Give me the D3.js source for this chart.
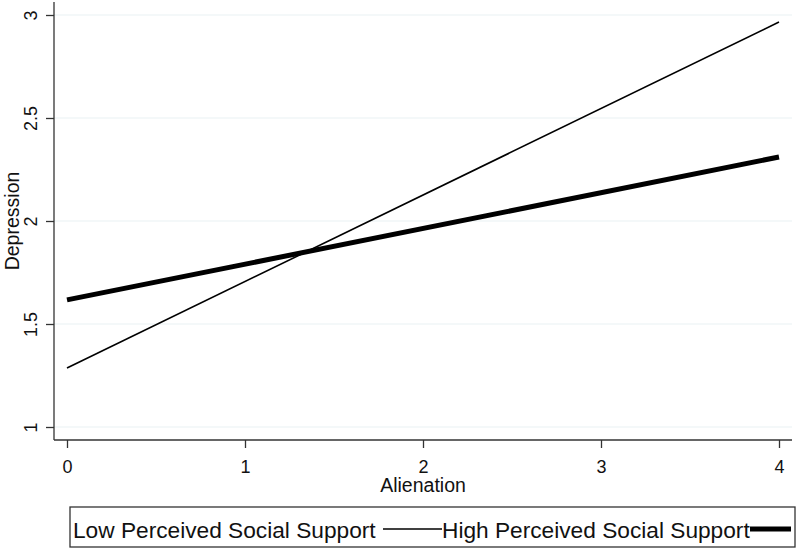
<!DOCTYPE html>
<html>
<head>
<meta charset="utf-8">
<script src="https://cdn.jsdelivr.net/npm/d3@7"></script>
<style>
  html, body { margin: 0; padding: 0; background: #fff; }
  svg { display: block; font-family: "Liberation Sans", Arial, sans-serif; }
</style>
</head>
<body>
<svg id="chart" width="797" height="550"></svg>
<script>
// Data
const xTicks = [0, 1, 2, 3, 4];
const yTicks = [1, 1.5, 2, 2.5, 3];
const seriesNames = ["Low Perceived Social Support", "High Perceived Social Support"];
const lowSupport = [[0, 1.286], [4, 2.966]];
const highSupport = [[0, 1.617], [4, 2.311]];
const xTitle = "Alienation";
const yTitle = "Depression";

(function () {
const svg = d3.select("#chart");
const pLeft = 54, pRight = 792, pTop = 2, pBottom = 440;

const x = d3.scaleLinear().domain([0, 4]).range([67, 779]);
const y = d3.scaleLinear().domain([1, 3]).range([427, 15]);

// Gridlines
svg.append("g").selectAll("line").data(yTicks).join("line")
  .attr("x1", pLeft).attr("x2", pRight)
  .attr("y1", d => y(d)).attr("y2", d => y(d))
  .attr("stroke", "#eaf2f3").attr("stroke-width", 1.2);

// Y axis
const yAxis = svg.append("g").attr("transform", `translate(${pLeft},0)`)
  .call(d3.axisLeft(y).tickValues(yTicks).tickSize(8).tickPadding(0).tickFormat(d3.format("")));
yAxis.select(".domain").attr("d", `M0,${pTop}V${pBottom}`).attr("stroke", "#333").attr("stroke-width", 1.3);
yAxis.selectAll(".tick line").attr("stroke", "#333").attr("stroke-width", 1.3);
yAxis.selectAll(".tick text")
  .attr("x", null).attr("dy", null)
  .attr("transform", "translate(-17,0) rotate(-90)")
  .attr("text-anchor", "middle")
  .attr("font-size", 18).attr("fill", "#111")
  .attr("font-family", "Liberation Sans, Arial, sans-serif");

// X axis
const xAxis = svg.append("g").attr("transform", `translate(0,${pBottom})`)
  .call(d3.axisBottom(x).tickValues(xTicks).tickSize(8).tickPadding(0).tickFormat(d3.format("d")));
xAxis.select(".domain").attr("d", `M${pLeft},0H${pRight}`).attr("stroke", "#333").attr("stroke-width", 1.3);
xAxis.selectAll(".tick line").attr("stroke", "#333").attr("stroke-width", 1.3);
xAxis.selectAll(".tick text")
  .attr("y", 33).attr("dy", null)
  .attr("font-size", 18).attr("fill", "#111")
  .attr("font-family", "Liberation Sans, Arial, sans-serif");

// Axis titles
svg.append("text").attr("x", 423).attr("y", 492).attr("text-anchor", "middle")
  .attr("font-size", 19.5).attr("fill", "#111").text(xTitle);
svg.append("text").attr("transform", `translate(19,${(pTop + pBottom) / 2}) rotate(-90)`)
  .attr("text-anchor", "middle").attr("font-size", 19.5).attr("fill", "#111").text(yTitle);

// Lines
const line = d3.line().x(d => x(d[0])).y(d => y(d[1]));
svg.append("path").datum(lowSupport).attr("d", line)
  .attr("fill", "none").attr("stroke", "#000").attr("stroke-width", 1.6);
svg.append("path").datum(highSupport).attr("d", line)
  .attr("fill", "none").attr("stroke", "#000").attr("stroke-width", 5);

// Legend
const lg = svg.append("g");
lg.append("rect").attr("x", 70).attr("y", 507).attr("width", 725).attr("height", 40)
  .attr("fill", "#fff").attr("stroke", "#333").attr("stroke-width", 1.3);
lg.append("text").attr("x", 73).attr("y", 538).attr("font-size", 22.7).attr("fill", "#111").text(seriesNames[0]);
lg.append("line").attr("x1", 383).attr("x2", 442).attr("y1", 529).attr("y2", 529)
  .attr("stroke", "#000").attr("stroke-width", 1.6);
lg.append("text").attr("x", 442).attr("y", 538).attr("font-size", 22.7).attr("fill", "#111").text(seriesNames[1]);
lg.append("line").attr("x1", 750).attr("x2", 791).attr("y1", 529).attr("y2", 529)
  .attr("stroke", "#000").attr("stroke-width", 5);
})();
</script>
</body>
</html>
